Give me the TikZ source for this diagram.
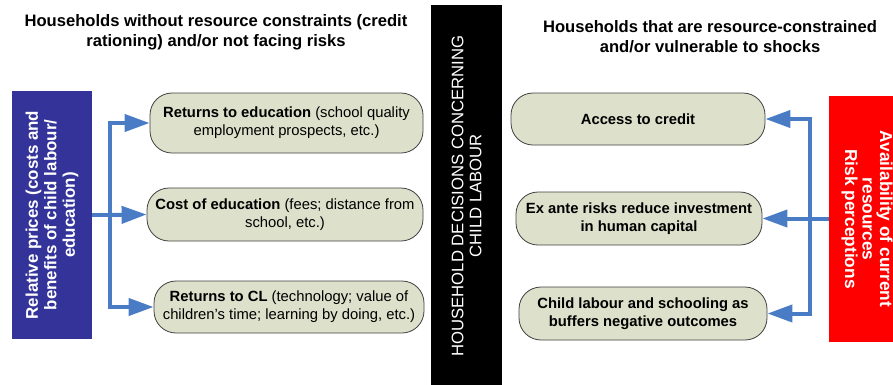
\documentclass[tikz,border=0pt]{standalone}
\usepackage{fontspec}
\setmainfont{Liberation Sans}
\usetikzlibrary{arrows.meta}
\definecolor{flowblue}{HTML}{4A7CC5}
\definecolor{deepblue}{HTML}{333399}
\definecolor{sage}{HTML}{DDE0CA}
\definecolor{alarm}{HTML}{FF0000}
\begin{document}
\begin{tikzpicture}[x=1pt,y=-1pt,
  factor/.style={draw=black!75, fill=sage, line width=0.8pt, rounded corners=22pt,
    align=center, inner sep=0pt, font=\fontsize{14.8}{18}\selectfont},
  boldfactor/.style={factor, font=\fontsize{14.8}{18}\selectfont\bfseries},
  heading/.style={align=center, font=\fontsize{16.6}{20}\selectfont\bfseries},
  link/.style={draw=flowblue, line width=4pt},
  feed/.style={link, -{Triangle[length=25pt,width=17pt]}},
  sidebox/.style={align=center, text=white, inner sep=0pt}]
\path[clip] (0,0) rectangle (893,384);
\useasboundingbox (0,0) rectangle (893,384);

% column headings
\node[heading] (lhead) at (216,32) {Households without resource constraints (credit\\rationing) and/or not facing risks};
\node[heading] (rhead) at (710,37) {Households that are resource-constrained\\and/or vulnerable to shocks};

% central decision bar
\node[sidebox, fill=black, rotate=90, minimum width=382pt, minimum height=71pt,
  font=\fontsize{16.7}{18}\selectfont] (hh) at (466.5,196)
  {HOUSEHOLD DECISIONS CONCERNING\\CHILD LABOUR};

% left driver
\node[sidebox, fill=deepblue, rotate=90, minimum width=248pt, minimum height=80pt,
  font=\fontsize{16.9}{18.5}\selectfont\bfseries] (rel) at (52,215)
  {Relative prices (costs and\\benefits of child labour/\\education)};

% right driver
\node[sidebox, fill=alarm, rotate=-90, minimum width=246pt, minimum height=76pt,
  font=\fontsize{17.3}{17.5}\selectfont\bfseries] (avail) at (867,219)
  {Availability of current\\resources\\Risk perceptions};

% left factors
\node[factor, minimum width=273pt, minimum height=60pt] (ret) at (286.5,123)
  {\textbf{Returns to education} (school quality\\employment prospects, etc.)};
\node[factor, minimum width=276pt, minimum height=53pt] (cost) at (285,214.5)
  {\textbf{Cost of education} (fees; distance from\\school, etc.)};
\node[factor, minimum width=270pt, minimum height=52pt] (rcl) at (289,307)
  {\textbf{Returns to CL} (technology; value of\\children’s time; learning by doing, etc.)};

% right factors
\node[boldfactor, minimum width=254pt, minimum height=52pt] (credit) at (638,119)
  {Access to credit};
\node[boldfactor, minimum width=246pt, minimum height=53pt] (exante) at (639,218.5)
  {Ex ante risks reduce investment\\in human capital};
\node[boldfactor, minimum width=248pt, minimum height=53pt] (buffer) at (643,313.5)
  {Child labour and schooling as\\buffers negative outcomes};

% left connectors
\coordinate (lj) at (110,215);
\draw[link] (rel.south) -- (lj);
\draw[link, line cap=rect] (ret.west -| lj) -- (rcl.west -| lj);
\draw[feed] (ret.west -| lj) -- (ret.west);
\draw[feed] (lj) -- (cost.west);
\draw[feed] (rcl.west -| lj) -- (rcl.west);

% right connectors
\coordinate (rj) at (810,218.5);
\draw[link, line cap=rect] (credit.east -| rj) -- (buffer.east -| rj);
\draw[feed] (avail.south |- exante.east) -- (exante.east);
\draw[feed] (credit.east -| rj) -- (credit.east);
\draw[feed] (buffer.east -| rj) -- (buffer.east);
\end{tikzpicture}
\end{document}
